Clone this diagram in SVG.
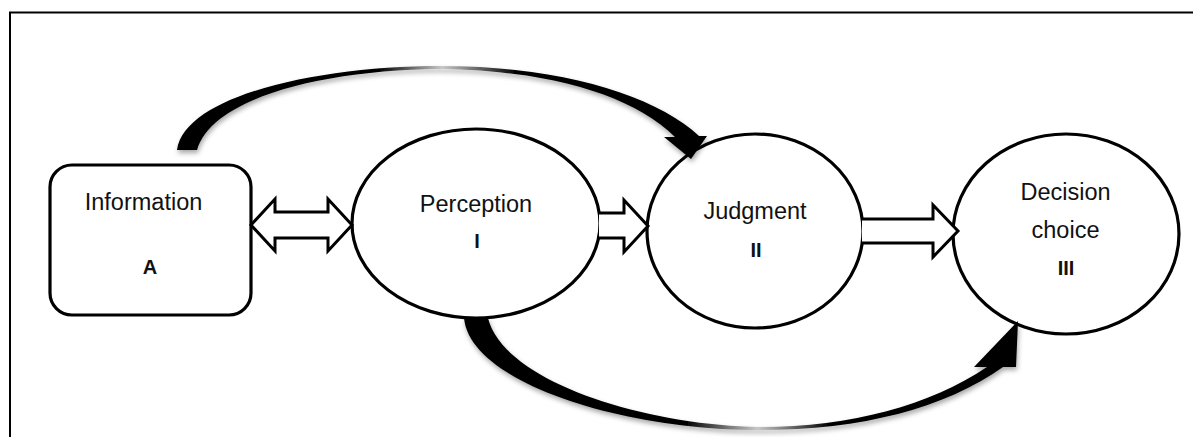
<svg xmlns="http://www.w3.org/2000/svg" width="1193" height="437" viewBox="0 0 1193 437">
<style>
.node{fill:#fff;stroke:#000;stroke-width:3.2}
.lbl{font-family:"Liberation Sans",Arial,sans-serif;font-size:23.5px;fill:#111;text-anchor:middle}
.num{font-family:"Liberation Sans",Arial,sans-serif;font-size:20px;font-weight:bold;fill:#111;text-anchor:middle}
.block{fill:#fff;stroke:#000;stroke-width:3;stroke-linejoin:miter}
.curve{stroke:none;filter:url(#sh)}
</style>
<defs>
<filter id="sh" x="-10%" y="-20%" width="120%" height="150%">
<feDropShadow dx="1" dy="3" stdDeviation="2.5" flood-color="#000" flood-opacity="0.35"/>
</filter>
<linearGradient id="gTop" gradientUnits="userSpaceOnUse" x1="177" y1="0" x2="707" y2="0">
<stop offset="0" stop-color="#000"/>
<stop offset="0.38" stop-color="#000"/>
<stop offset="0.5" stop-color="#c8c8c8"/>
<stop offset="0.64" stop-color="#000"/>
<stop offset="1" stop-color="#000"/>
</linearGradient>
<linearGradient id="gBot" gradientUnits="userSpaceOnUse" x1="464" y1="0" x2="1018" y2="0">
<stop offset="0" stop-color="#000"/>
<stop offset="0.4" stop-color="#000"/>
<stop offset="0.53" stop-color="#c8c8c8"/>
<stop offset="0.66" stop-color="#000"/>
<stop offset="1" stop-color="#000"/>
</linearGradient>
</defs>
<rect width="1193" height="437" fill="#fff"/>
<path d="M10,437 V12.5 H1193" fill="none" stroke="#000" stroke-width="2"/>

<g id="node-information">
<rect class="node" x="50" y="165" width="201" height="150" rx="22"/>
<text class="lbl" x="143.5" y="210">Information</text>
<text class="num" x="150" y="274">A</text>
</g>
<g id="node-perception">
<ellipse class="node" cx="476" cy="223.5" rx="124" ry="94.5"/>
<text class="lbl" x="476" y="212">Perception</text>
<text class="num" x="477" y="248">I</text>
</g>
<g id="node-judgment">
<ellipse class="node" cx="755" cy="231" rx="108" ry="97"/>
<text class="lbl" x="755" y="219">Judgment</text>
<text class="num" x="756" y="257">II</text>
</g>
<g id="node-decision">
<ellipse class="node" cx="1066" cy="234" rx="113" ry="100"/>
<text class="lbl" x="1065.5" y="200">Decision</text>
<text class="lbl" x="1065.5" y="238">choice</text>
<text class="num" x="1066" y="275">III</text>
</g>

<g id="connectors">
<polygon class="block" points="251,225 275,199 275,212 328,212 328,199 352,225 328,251 328,238 275,238 275,251"/>
<path class="block" d="M599,213 H624 V200 L648,226 L624,252 V238 H599"/>
<path class="block" d="M862,219 H933 V205 L958,231 L933,257 V243 H862"/>
<path class="curve" fill="url(#gTop)" d="M177,150 C185,95 320,66 440,66 C560,66 655,95 699,136 L707,136 L691,159 L664,137 L675,137 C632,94 545,70 440,69 C322,70 212,98 197,150 Z"/>
<path class="curve" fill="url(#gBot)" d="M464,318 C470,382 620,430 760,430 C862,430 945,408 1003,367 L1016,367 L1018,321 L974,367 L987,367 C930,405 852,427 760,427 C640,425 503,380 488,318 Z"/>
</g>
</svg>
